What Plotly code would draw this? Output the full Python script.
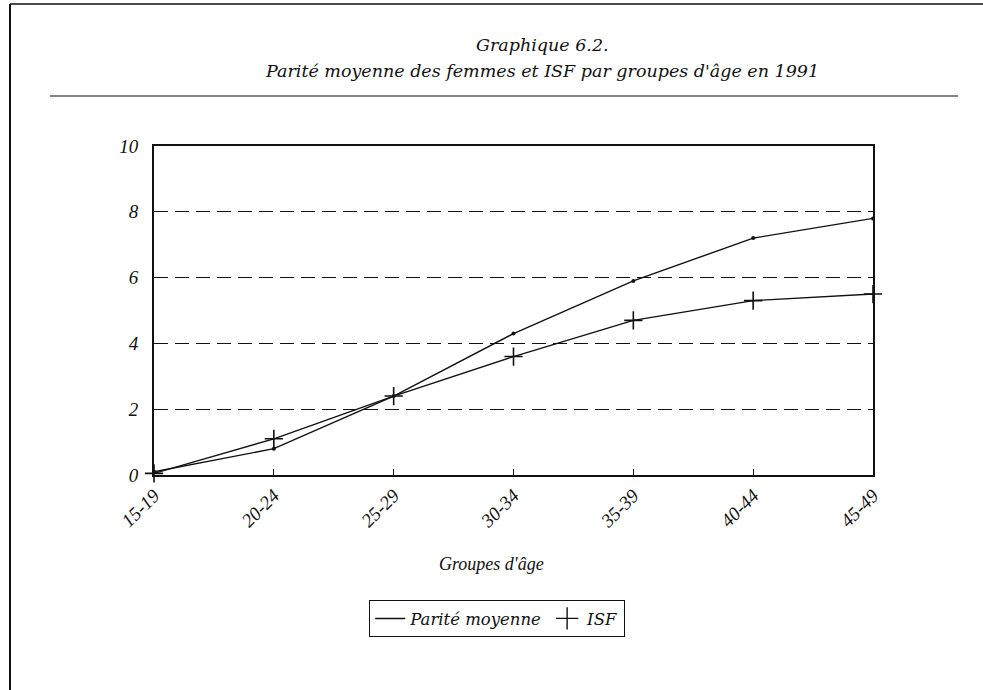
import plotly.graph_objects as go

# Age groups and series values
age_groups = ["15-19", "20-24", "25-29", "30-34", "35-39", "40-44", "45-49"]
parite_moyenne = [0.1, 0.8, 2.4, 4.3, 5.9, 7.2, 7.8]
isf = [0.05, 1.1, 2.4, 3.6, 4.7, 5.3, 5.5]
y_ticks = [0, 2, 4, 6, 8, 10]

FONT = "Liberation Serif"
WIDE = "DejaVu Serif"
INK = "#111111"

# Plot-area pixel geometry, used to place decorations in paper units
L, R, T, B = 154, 873, 146, 475
W, H = 983, 690


def px(x):
    return (x - L) / (R - L)


def py(y):
    return (B - y) / (B - T)


fig = go.Figure()

fig.add_trace(go.Scatter(
    x=age_groups, y=parite_moyenne, mode="lines+markers",
    line=dict(color=INK, width=1.4),
    marker=dict(symbol="circle", size=4, color=INK),
    showlegend=False, cliponaxis=False,
))
fig.add_trace(go.Scatter(
    x=age_groups, y=isf, mode="lines+markers",
    line=dict(color=INK, width=1.4),
    marker=dict(symbol="cross-thin", size=13, line=dict(color=INK, width=1.6)),
    showlegend=False, cliponaxis=False,
))

# Legend entries: a dash for the mean parity, a plus for ISF
fig.add_trace(go.Scatter(
    x=[None], y=[None], mode="lines", name="Parité moyenne",
    line=dict(color=INK, width=1.4),
))
fig.add_trace(go.Scatter(
    x=[None], y=[None], mode="markers", name="ISF",
    marker=dict(symbol="cross-thin", size=18, line=dict(color=INK, width=1.4)),
))

shapes = [
    # page frame
    dict(type="line", xref="paper", yref="paper", x0=px(10), x1=px(983),
         y0=py(4), y1=py(4), line=dict(color=INK, width=1.5)),
    dict(type="line", xref="paper", yref="paper", x0=px(10), x1=px(10),
         y0=py(4), y1=py(690), line=dict(color=INK, width=2)),
    # rule under the heading
    dict(type="line", xref="paper", yref="paper", x0=px(50), x1=px(958),
         y0=py(96), y1=py(96), line=dict(color=INK, width=1.2)),
]

annotations = [
    dict(text="Graphique 6.2.", x=px(542), y=py(45), xref="paper", yref="paper",
         showarrow=False, font=dict(family=WIDE, size=17.5, color=INK),
         xanchor="center", yanchor="middle"),
    dict(text="Parité moyenne des femmes et ISF par groupes d'âge en 1991",
         x=px(542), y=py(71), xref="paper", yref="paper", showarrow=False,
         font=dict(family=WIDE, size=17.5, color=INK),
         xanchor="center", yanchor="middle"),
    dict(text="Groupes d'âge", x=px(491), y=py(564), xref="paper", yref="paper",
         showarrow=False, font=dict(family=FONT, size=18, color=INK),
         xanchor="center", yanchor="middle"),
]
for a in annotations:
    a["font"]["style"] = "italic"

fig.update_layout(
    width=W, height=H,
    margin=dict(l=L, r=W - R, t=T, b=H - B),
    paper_bgcolor="white", plot_bgcolor="white",
    font=dict(family=FONT, color=INK, size=16, style="italic"),
    shapes=shapes, annotations=annotations,
    legend=dict(
        orientation="h", x=px(497), y=py(600), xanchor="center", yanchor="top",
        bordercolor=INK, borderwidth=1.2, bgcolor="white",
        font=dict(family=WIDE, size=16.5, color=INK, style="italic"),
        itemwidth=30, tracegroupgap=0,
    ),
    showlegend=True,
)

fig.update_xaxes(
    type="category", range=[0, len(age_groups) - 1],
    showline=True, linecolor=INK, linewidth=2, mirror=True,
    ticks="inside", ticklen=6, tickcolor=INK, tickwidth=1.2,
    tickangle=-45, showgrid=False, zeroline=False,
    tickfont=dict(family=FONT, size=19, color=INK, style="italic"),
)
fig.update_yaxes(
    range=[0, 10], tickvals=y_ticks, ticktext=[str(v) for v in y_ticks],
    showline=True, linecolor=INK, linewidth=2, mirror=True,
    ticks="", showgrid=True, gridcolor=INK, gridwidth=1.3, griddash="14px,7px",
    zeroline=False, ticklabelstandoff=10,
    tickfont=dict(family=FONT, size=19, color=INK, style="italic"),
)

fig.write_html("out.html")
